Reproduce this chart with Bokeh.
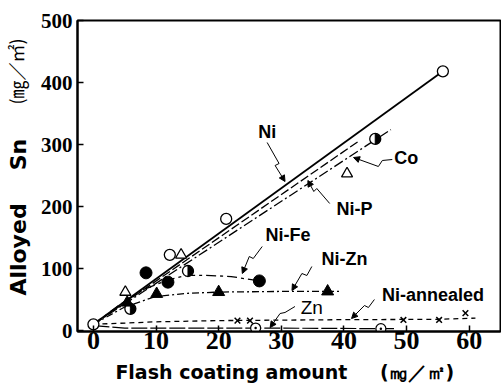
import math
from bokeh.plotting import figure
from bokeh.models import Range1d, FixedTicker, Label, Arrow, NormalHead, LinearAxis
from bokeh.embed import file_html
from bokeh.resources import INLINE

# ---------------- data ----------------
x_ticks = [0, 10, 20, 30, 40, 50, 60]
y_ticks = [0, 100, 200, 300, 400, 500]

ni_x = [0, 12.2, 21.2, 55.8]
ni_y = [10, 122, 180, 418]
ni_line_x = [0, 55.8]
ni_line_y = [10, 418]

nip_x = [5.1, 14.0, 40.5]
nip_y = [62, 122, 253]
nip_line_x = [0, 42.3]
nip_line_y = [10, 305]

co_x = [5.9, 15.1, 45.0]
co_y = [35, 96, 309]
co_line_x = [0, 47.5]
co_line_y = [10, 324]

nife_x = [8.4, 11.9, 26.5]
nife_y = [93, 78, 80]
nife_line_x = [0, 4, 8, 12, 15, 18, 22, 26.5]
nife_line_y = [10, 40, 66, 82, 89, 89, 87, 80]

nizn_x = [5.4, 10.1, 20.0, 37.4]
nizn_y = [45, 59, 62, 63]
nizn_line_x = [0, 5, 10, 15, 20, 30, 39.5]
nizn_line_y = [10, 38, 55, 60, 62, 63, 63]

zn_x = [25.9, 45.9]
zn_y = [4, 3]
zn_line_x = [0, 5, 26, 46, 48]
zn_line_y = [8, 4, 4, 3, 3]

ann_x = [23.0, 25.0, 49.5, 55.2, 59.4]
ann_y = [16, 16, 17, 17, 28]
ann_line_x = [0, 10, 20, 40, 55, 61]
ann_line_y = [10, 14, 16, 17.5, 18, 20]

x_title = "Flash coating amount"
unit_text = "(㎎／㎡)"
y_title_words = ["Alloyed", "Sn"]

# ---------------- figure ----------------
X0, X1 = -2.54, 65.0
Y0, Y1 = -1.6, 500.0
FL, FR, FT, FB = 74, 500, 20, 331   # frame edges in the picture


def at(px, py):
    """picture pixel -> data coordinate (for annotations only)"""
    x = X0 + (px - FL) * (X1 - X0) / (FR - FL)
    y = Y0 + (FB - py) * (Y1 - Y0) / (FB - FT)
    return round(x, 4), round(y, 4)


p = figure(width=501, height=387, x_range=Range1d(X0, X1), y_range=Range1d(Y0, Y1),
           output_backend="svg", toolbar_location=None, title=None,
           min_border_left=FL, min_border_right=501 - FR, min_border_top=FT,
           min_border_bottom=387 - FB)
p.xgrid.visible = False
p.ygrid.visible = False
p.outline_line_color = "black"
p.outline_line_width = 2
p.background_fill_color = "white"
p.border_fill_color = "white"

for ax in (p.xaxis[0], p.yaxis[0]):
    ax.axis_line_width = 2
    ax.major_tick_in = 6
    ax.major_tick_out = 0
    ax.minor_tick_in = 0
    ax.minor_tick_out = 0
    ax.major_tick_line_width = 1.5
    ax.major_label_text_font_style = "bold"
    ax.major_label_text_color = "black"

p.xaxis.ticker = FixedTicker(ticks=x_ticks)
p.yaxis.ticker = FixedTicker(ticks=y_ticks)
p.xaxis.major_label_text_font = "Liberation Sans Narrow"
p.xaxis.major_label_text_font_size = "26px"
p.xaxis.major_label_standoff = 0
p.yaxis.major_label_text_font = "Liberation Sans Narrow"
p.yaxis.major_label_text_font_size = "21px"
p.yaxis.major_label_standoff = 5


def text_axis(place, texts_at, font, size, style, standoff, orientation="horizontal"):
    """an axis with no line/ticks used only to carry the axis-title texts"""
    ticks = [v for v, _ in texts_at]
    ax = LinearAxis(ticker=FixedTicker(ticks=ticks),
                    major_label_overrides={v: t for v, t in texts_at},
                    axis_line_color=None, major_tick_line_color=None,
                    minor_tick_line_color=None, major_tick_in=0, major_tick_out=0,
                    minor_tick_in=0, minor_tick_out=0,
                    major_label_text_font=font, major_label_text_font_size=size,
                    major_label_text_font_style=style, major_label_text_color="black",
                    major_label_standoff=standoff, major_label_orientation=orientation)
    p.add_layout(ax, place)
    return ax


# x title + units (one line under the tick labels)
text_axis("below", [(at(229, 0)[0], x_title), (at(416, 0)[0], unit_text)],
          "DejaVu Sans", "19px", "bold", 9)
# y title words (vertical) and units above them
text_axis("left", [(at(0, 249)[1], y_title_words[0]), (at(0, 154)[1], y_title_words[1])],
          "DejaVu Sans", "22px", "bold", 6, "vertical")
text_axis("left", [(at(0, 71)[1], unit_text)],
          "Noto Sans CJK JP", "18px", "normal", -26, "vertical")

# ---------------- lines ----------------
p.line(ni_line_x, ni_line_y, line_color="black", line_width=1.8)
p.line(nip_line_x, nip_line_y, line_color="black", line_width=1.3, line_dash="9 3")
p.line(co_line_x, co_line_y, line_color="black", line_width=1.3, line_dash="10 3 2 3")
p.line(nife_line_x, nife_line_y, line_color="black", line_width=1.3, line_dash="10 4 3 4")
p.line(nizn_line_x, nizn_line_y, line_color="black", line_width=1.3, line_dash="7 3 2 3")
p.line(zn_line_x, zn_line_y, line_color="black", line_width=1.2, line_dash="16 3")
p.line(ann_line_x, ann_line_y, line_color="black", line_width=1.3, line_dash="5 4")

# ---------------- markers ----------------
p.scatter(ni_x, ni_y, marker="circle", size=11, fill_color="white", line_color="black", line_width=1.3)
p.scatter(nip_x, nip_y, marker="triangle", size=11, fill_color="white", line_color="black", line_width=1.3)
p.scatter(co_x, co_y, marker="circle", size=11, fill_color="white", line_color="black", line_width=1.3)
p.wedge(co_x, co_y, radius=5.2, radius_units="screen", start_angle=-math.pi / 2,
        end_angle=math.pi / 2, fill_color="black", line_color="black")
p.scatter(nife_x, nife_y, marker="circle", size=12, fill_color="black", line_color="black")
p.scatter(nizn_x, nizn_y, marker="triangle", size=12, fill_color="black", line_color="black")
p.scatter(zn_x, zn_y, marker="circle_dot", size=10, fill_color="white", line_color="black", line_width=1.2)
p.scatter(ann_x, ann_y, marker="x", size=8, line_color="black", line_width=1.5)

# ---------------- leaders (zig-zag arrows) ----------------
leaders = [
    [(265, 142), (277, 163), (273, 165), (283, 181)],   # Ni
    [(328, 203), (315, 188), (312, 191), (306, 180)],   # Ni-P
    [(391, 159), (381, 160), (377, 166), (352, 157)],   # Co
    [(260, 246), (251, 258), (247, 256), (240, 273)],   # Ni-Fe
    [(310, 266), (305, 275), (300, 273), (290, 290)],   # Ni-Zn
    [(293, 306), (283, 312), (278, 313), (268, 327)],   # Zn
    [(373, 299), (367, 307), (363, 305), (350, 318)],   # Ni-annealed
]
for pts in leaders:
    d = [at(a, b) for a, b in pts]
    p.line([q[0] for q in d[:-1]], [q[1] for q in d[:-1]], line_color="black", line_width=1)
    p.add_layout(Arrow(end=NormalHead(size=6, fill_color="black", line_color="black", line_width=1),
                       x_start=d[-2][0], y_start=d[-2][1], x_end=d[-1][0], y_end=d[-1][1],
                       line_color="black", line_width=1))


# ---------------- texts inside the frame ----------------
def label(txt, px, py, size, font="Liberation Sans", style="bold"):
    x, y = at(px, py)
    p.add_layout(Label(x=x, y=y, text=txt, text_font=font, text_font_size=size,
                       text_font_style=style, text_align="center", text_baseline="middle",
                       text_color="black"))


label("Ni", 265, 131, "18px")
label("Co", 405, 158, "18px")
label("Ni-P", 353, 208, "18px")
label("Ni-Fe", 286, 234, "18px")
label("Ni-Zn", 343, 258, "18px")
label("Zn", 310, 307, "19px", style="normal")
label("Ni-annealed", 432, 294, "18px")

open("out.html", "w").write(file_html(p, INLINE))
